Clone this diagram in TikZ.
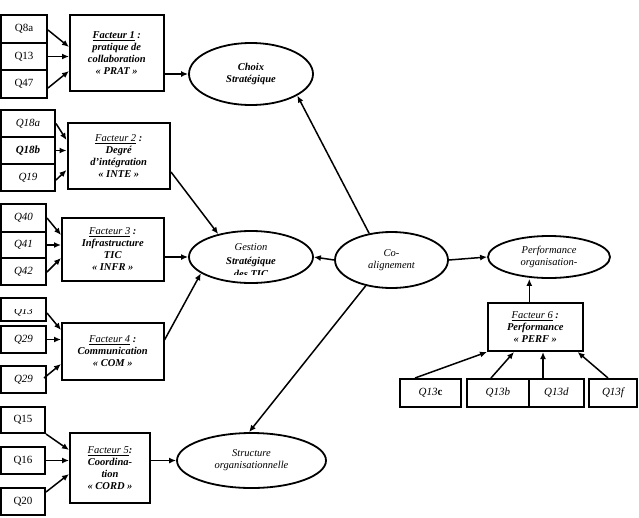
\documentclass[tikz,border=0pt]{standalone}
\usepackage{fontspec}
\setmainfont{Liberation Serif}
\usetikzlibrary{shapes.geometric, arrows.meta}
\newcommand{\facteur}[1]{{\mdseries\underline{Facteur #1}}}

\begin{document}
\begin{tikzpicture}[x=1pt, y=-1pt,
  qbox/.style={draw, line width=2pt, inner sep=0pt, font=\fontsize{11}{12}\selectfont},
  qit/.style={qbox, font=\fontsize{11}{12}\selectfont\itshape},
  facbox/.style={draw, line width=2pt, inner sep=1pt, align=center, font=\fontsize{10.5}{12}\selectfont\bfseries\itshape},
  oval/.style={draw, ellipse, line width=1.8pt, inner sep=0pt, align=center, font=\fontsize{10.5}{12}\selectfont\itshape},
  link/.style={line width=1.5pt, -{Latex[length=7pt, width=6pt]}}]
\useasboundingbox (0,0) rectangle (639,517);

% facteur 1
\node[qbox, minimum width=46pt, minimum height=28pt] (q8a) at (24,29) {Q8a};
\node[qbox, minimum width=46pt, minimum height=27pt] (q13a) at (24,56.5) {Q13};
\node[qbox, minimum width=46pt, minimum height=28pt] (q47) at (24,84) {Q47};
\node[facbox, minimum width=93.5pt, minimum height=76pt] (f1) at (116.75,53) {\underline{Facteur 1} :\\ pratique de\\ collaboration\\ « PRAT »};
\node[oval, font=\fontsize{10.5}{12}\selectfont\bfseries\itshape, minimum width=124pt, minimum height=62pt] (choix) at (251,74) {Choix\\ Stratégique};

% facteur 2
\node[qit, minimum width=54pt, minimum height=27pt] (q18a) at (28,123.5) {Q18a};
\node[qit, font=\fontsize{11}{12}\selectfont\bfseries\itshape, minimum width=54pt, minimum height=27pt] (q18b) at (28,150.5) {Q18b};
\node[qit, minimum width=54pt, minimum height=27pt] (q19) at (28,177.5) {Q19};
\node[facbox, minimum width=102.5pt, minimum height=66pt] (f2) at (118.75,156) {\facteur{2} :\\ Degré\\ d’intégration\\ « INTE »};

% facteur 3
\node[qit, minimum width=45pt, minimum height=28pt] (q40) at (23.5,218) {Q40};
\node[qit, minimum width=45pt, minimum height=26pt] (q41) at (23.5,245) {Q41};
\node[qit, minimum width=45pt, minimum height=27pt] (q42) at (23.5,271.5) {Q42};
\node[facbox, minimum width=101.5pt, minimum height=63pt] (f3) at (112.75,249.5) {\facteur{3} :\\ Infrastructure\\ TIC\\ « INFR »};
\node[oval, minimum width=124pt, minimum height=52pt] (gst) at (251,257) {};
\begin{scope}
  \clip (190,230) rectangle (312,274);
  \node[font=\fontsize{10.5}{13.5}\selectfont\itshape, align=center] at (gst.center) [yshift=-4pt] {Gestion\\ \textbf{Stratégique}\\ \textbf{des TIC}};
\end{scope}

% facteur 4
\node[qit, minimum width=45pt, minimum height=23pt] (q13b) at (23.5,309.5) {};
\begin{scope}
  \clip (1,309) rectangle (46,321);
  \node[font=\fontsize{11}{12}\selectfont\itshape] at (q13b.center) [yshift=-2.5pt] {Q13};
\end{scope}
\node[qit, minimum width=45pt, minimum height=27pt] (q29a) at (23.5,339.5) {Q29};
\node[qit, minimum width=45pt, minimum height=27pt] (q29b) at (23.5,379.5) {Q29};
\node[facbox, minimum width=101.5pt, minimum height=57pt] (f4) at (112.75,351.5) {\facteur{4} :\\ Communication\\ « COM »};

% facteur 5
\node[qbox, minimum width=44pt, minimum height=26pt] (q15) at (23,420) {Q15};
\node[qbox, minimum width=44pt, minimum height=27pt] (q16) at (23,460.5) {Q16};
\node[qbox, minimum width=44pt, minimum height=27pt] (q20) at (23,501.5) {Q20};
\node[facbox, minimum width=80pt, minimum height=70pt] (f5) at (110,468) {\facteur{5}:\\ Coordina-\\ tion\\ « CORD »};
\node[oval, minimum width=149pt, minimum height=55pt] (struct) at (251.5,460.5) {Structure\\ organisationnelle};

% co-alignement et performance
\node[oval, minimum width=113pt, minimum height=56pt] (coal) at (391.5,260) {Co-\\ alignement};
\node[oval, minimum width=122pt, minimum height=42pt] (perf) at (549,257) {Performance\\ organisation-};
\node[facbox, minimum width=94.6pt, minimum height=48pt] (f6) at (535.3,327) {\facteur{6} :\\ Performance\\ « PERF »};
\node[qit, minimum width=61pt, minimum height=28pt] (q13c) at (430.5,393) {Q13\textbf{\upshape c}};
\node[qit, minimum width=61.6pt, minimum height=28pt] (q13e) at (497.8,393) {Q13b};
\node[qit, minimum width=55.4pt, minimum height=28pt] (q13d) at (556.3,393) {Q13d};
\node[qit, minimum width=48pt, minimum height=28pt] (q13f) at (613,393) {Q13f};

% fleches
\draw[link] ([yshift=-1pt]q8a.east) -- ([yshift=6pt]f1.west);
\draw[link] (q13a.east) -- (q13a.east -| f1.west);
\draw[link] ([yshift=-4pt]q47.east) -- ([yshift=-18pt]f1.west);
\draw[link] (f1.east |- choix.west) -- (choix.west);

\draw[link] (q18a.east) -- ([yshift=16pt]f2.west);
\draw[link] (q18b.east) -- (q18b.east -| f2.west);
\draw[link] ([yshift=-2.5pt]q19.east) -- ([yshift=-14pt]f2.west);
\draw[link] ([yshift=-16pt]f2.east) -- (gst.145);

\draw[link] (q40.east) -- ([yshift=14.5pt]f3.west);
\draw[link] (q41.east) -- (q41.east -| f3.west);
\draw[link] ([yshift=-0.5pt]q42.east) -- ([yshift=-8.5pt]f3.west);
\draw[link] (f3.east |- gst.west) -- (gst.west);

\draw[link] ([yshift=-3.5pt]q13b.east) -- ([yshift=21.5pt]f4.west);
\draw[link] (q29a.east) -- (q29a.east -| f4.west);
\draw[link] ([xshift=-3pt, yshift=1.5pt]q29b.east) -- ([yshift=-12.5pt]f4.west);
\draw[link] ([yshift=11.5pt]f4.east) -- (gst.198);

\draw[link] (q15.south east) -- ([yshift=18pt]f5.west);
\draw[link] (q16.east) -- (q16.east -| f5.west);
\draw[link] ([yshift=9.5pt]q20.east) -- ([yshift=-6pt]f5.west);
\draw[link] (f5.east |- struct.west) -- (struct.west);

\draw[link] (coal.130) -- (choix.-25);
\draw[link] (coal.west) -- (gst.east);
\draw[link] (coal.225) -- (struct.95);
\draw[link] (coal.east) -- (perf.west);
\draw[link] ([xshift=-6pt]f6.north) -- ([xshift=-6pt]f6.north |- perf.south);

\draw[link] ([xshift=-15.5pt]q13c.north) -- (f6.south west);
\draw[link] ([xshift=-6.8pt]q13e.north) -- ([xshift=-21.3pt]f6.south);
\draw[link] ([xshift=-13.3pt]q13d.north) -- ([xshift=-13.3pt]q13d.north |- f6.south);
\draw[link] ([xshift=-5pt]q13f.north) -- ([xshift=-6pt]f6.south east);
\end{tikzpicture}
\end{document}
